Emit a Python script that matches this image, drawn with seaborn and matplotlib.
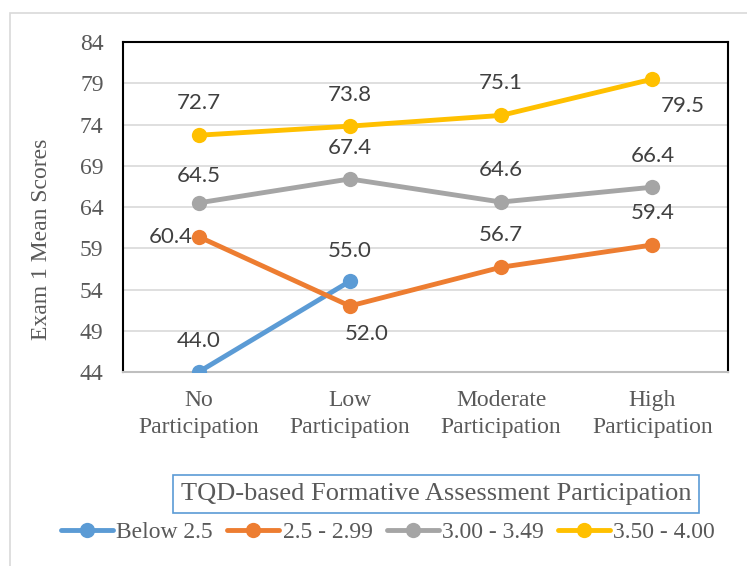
import numpy as np
import pandas as pd
import matplotlib
matplotlib.use("Agg")
import matplotlib.pyplot as plt
from matplotlib.patches import Rectangle
from matplotlib.lines import Line2D
import seaborn as sns

categories = ["No\nParticipation", "Low\nParticipation", "Moderate\nParticipation", "High\nParticipation"]
series_names = ["Below 2.5", "2.5 - 2.99", "3.00 - 3.49", "3.50 - 4.00"]
below_25 = [44.0, 55.0, np.nan, np.nan]
s_25_299 = [60.4, 52.0, 56.7, 59.4]
s_300_349 = [64.5, 67.4, 64.6, 66.4]
s_350_400 = [72.7, 73.8, 75.1, 79.5]
y_ticks = [44, 49, 54, 59, 64, 69, 74, 79, 84]
colors = ["#5B9BD5", "#ED7D31", "#A5A5A5", "#FFC000"]

# label placement per point: (dx, dy) in points
offsets = {
    "Below 2.5": [(0, 22.5), (0, 22)],
    "2.5 - 2.99": [(-20, 0), (12, -20), (0, 23.5), (0, 23)],
    "3.00 - 3.49": [(0, 19), (0, 22.5), (0, 23), (0, 22.5)],
    "3.50 - 4.00": [(0, 23.5), (0, 22.5), (0, 23), (22, -19.5)],
}

sns.set_style("white")
plt.rcParams["font.family"] = ["Liberation Serif", "DejaVu Serif"]

values = [below_25, s_25_299, s_300_349, s_350_400]
df = pd.DataFrame({
    "Participation": np.tile(categories, len(series_names)),
    "Group": np.repeat(series_names, len(categories)),
    "Score": np.concatenate(values),
})
df["Participation"] = pd.Categorical(df["Participation"], categories=categories, ordered=True)
df = df.dropna()

fig = plt.figure(figsize=(7.47, 5.66), dpi=100)
ax = fig.add_axes([123 / 747, 1 - 372 / 566, (728 - 123) / 747, (372 - 42) / 566])

sns.lineplot(data=df, x="Participation", y="Score", hue="Group", hue_order=series_names,
             palette=colors, marker="o", markersize=11, markeredgewidth=0, linewidth=3.5,
             sort=False, legend=False, ax=ax, zorder=3)

for name, vals, col in zip(series_names, values, colors):
    for i, v in enumerate(vals):
        if np.isnan(v):
            continue
        dx, dy = offsets[name][i]
        ax.annotate(f"{v:.1f}", (i, v), xytext=(dx, dy), textcoords="offset points",
                    ha="center", va="center", fontsize=16, color="#404040",
                    family=["Lato", "DejaVu Sans"], zorder=4)

ax.set_xlim(-0.5, 3.5)
ax.set_ylim(44, 84)
ax.set_yticks(y_ticks)
ax.set_xticks(range(len(categories)))
ax.set_xticklabels(categories, linespacing=1.4)
ax.tick_params(axis="both", length=0, labelsize=17, colors="#595959")
ax.tick_params(axis="x", pad=13)
ax.tick_params(axis="y", pad=14)
ax.grid(axis="y", color="#D9D9D9", linewidth=1.2)
ax.set_axisbelow(True)
ax.set_xlabel("")
ax.set_ylabel("Exam 1 Mean Scores", fontsize=17, color="#595959")
ax.yaxis.set_label_coords(-0.118, 1 - (239 - 42) / 330)
for side in ["top", "right", "left"]:
    ax.spines[side].set_color("black")
    ax.spines[side].set_linewidth(1.5)
ax.spines["bottom"].set_color("#BFBFBF")
ax.spines["bottom"].set_linewidth(1.5)

# outer chart frame
fig.patches.append(Rectangle((10 / 747, -0.05), 1.2, 1 - 13 / 566 + 0.05, transform=fig.transFigure,
                             fill=False, edgecolor="#D9D9D9", linewidth=1.2))

# legend title box
fig.text(436 / 747, 1 - 494 / 566, "TQD-based Formative Assessment Participation",
         ha="center", va="center", fontsize=19, color="#595959",
         bbox=dict(boxstyle="square,pad=0.3", facecolor="white", edgecolor="#5B9BD5", linewidth=1.2))

handles = [Line2D([0], [0], color=c, linewidth=3.5, marker="o", markersize=11, markeredgewidth=0)
           for c in colors]
fig.legend(handles, series_names, loc="center", bbox_to_anchor=(388 / 747, 1 - 532 / 566),
           ncol=4, frameon=False, fontsize=17, handlelength=2.2, handletextpad=0.15,
           columnspacing=0.6, labelcolor="#595959", borderaxespad=0)

fig.savefig("out.png", dpi=100)
